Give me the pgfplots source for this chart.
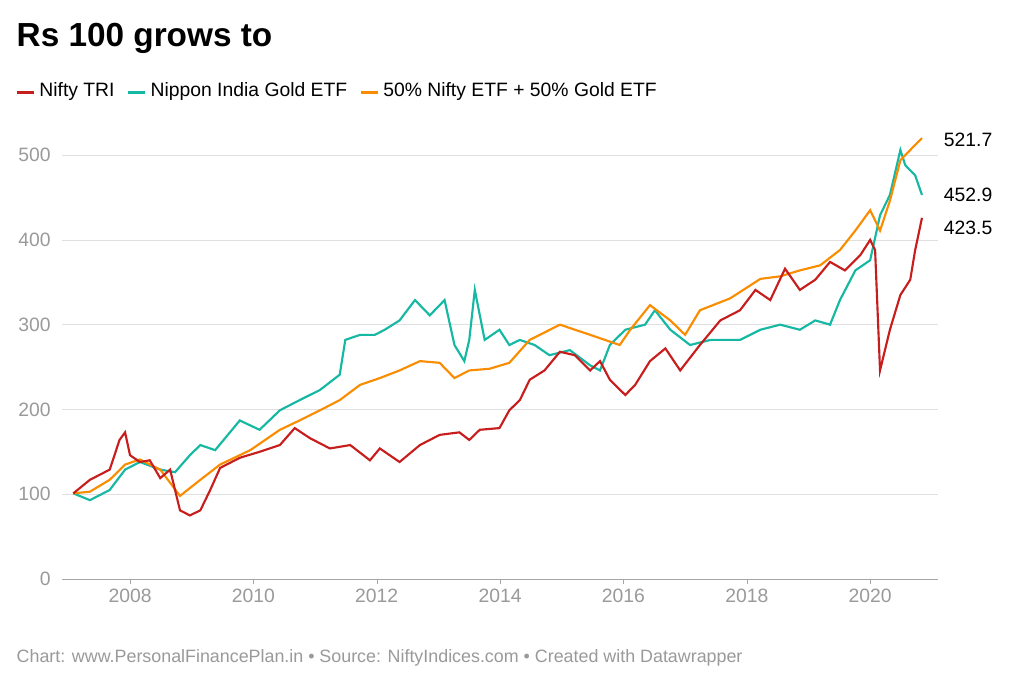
\documentclass[border=0pt]{standalone}
\usepackage{pgfplots}
\pgfplotsset{compat=1.18}
\usepackage{fontspec}
\setmainfont{Liberation Sans}
\definecolor{cred}{HTML}{C71E1D}
\definecolor{cteal}{HTML}{15B8A2}
\definecolor{corange}{HTML}{FA8C00}
\definecolor{cgrey}{HTML}{9A9A9A}
\begin{document}
\begin{tikzpicture}
\fill[white] (0,0) rectangle (768pt,520.5pt);
\node[anchor=west,font=\bfseries\fontsize{25}{30}\selectfont] at (9pt,492pt) {Rs 100 grows to};
\node[anchor=west,font=\fontsize{14.5}{17}\selectfont] at (9pt,451.5pt) {%
\textcolor{cred}{\rule[0.32ex]{13pt}{2.4pt}} Nifty TRI\hspace{10pt}%
\textcolor{cteal}{\rule[0.32ex]{13pt}{2.4pt}} Nippon India Gold ETF\hspace{10pt}%
\textcolor{corange}{\rule[0.32ex]{13pt}{2.4pt}} 50\% Nifty ETF + 50\% Gold ETF};
\node[anchor=west,text=cgrey,font=\fontsize{13.4}{16}\selectfont] at (9pt,27pt) {Chart: www.PersonalFinancePlan.in • Source: NiftyIndices.com • Created with Datawrapper};
\begin{axis}[at={(46.5pt,86.25pt)},anchor=south west,scale only axis,
width=657pt,height=337pt,
xmin=6.897,xmax=21.10,ymin=0,ymax=530,
axis x line*=bottom, axis y line*=left,
x axis line style={gray!70,-}, y axis line style={draw=none},
clip=false,
ytick={0,100,200,300,400,500},xtick={8,10,12,14,16,18,20},
xticklabels={2008,2010,2012,2014,2016,2018,2020},
ymajorgrids,grid style={gray!25},
ytick style={draw=none}, xtick style={gray!70},
tick align=outside, major tick length=4pt,
/pgf/number format/assume math mode=true,
yticklabel style={text=cgrey,font=\fontsize{14.5}{17}\selectfont,xshift=-1pt},
xticklabel style={text=cgrey,font=\fontsize{14.5}{17}\selectfont},
]
\addplot[cteal,line width=1.6pt] coordinates {
(7.08,101)(7.35,93)(7.67,105)(7.92,129)(8.16,138)(8.49,129)(8.73,126)(8.97,146)(9.14,158)(9.38,152)(9.78,187)(10.1,176)(10.43,199)(10.75,211)(11.08,223)(11.4,241)(11.49,282)(11.73,288)(11.97,288)(12.13,294)(12.37,305)(12.62,329)(12.86,311)(13.1,329)(13.26,276)(13.42,257)(13.5,282)(13.59,341)(13.75,282)(13.99,294)(14.15,276)(14.32,282)(14.56,276)(14.8,264)(15.13,270)(15.46,252)(15.62,246)(15.78,276)(16.03,294)(16.35,300)(16.51,317)(16.76,294)(17.08,276)(17.41,282)(17.89,282)(18.22,294)(18.54,300)(18.86,294)(19.11,305)(19.35,300)(19.51,329)(19.76,364)(20.0,376)(20.16,429)(20.32,453)(20.49,506)(20.57,488)(20.73,476)(20.84,453)};
\addplot[corange,line width=1.6pt] coordinates {
(7.08,101)(7.35,103)(7.67,117)(7.92,135)(8.16,141)(8.49,129)(8.81,98)(9.14,117)(9.46,135)(9.95,152)(10.43,176)(10.75,187)(11.08,199)(11.4,211)(11.73,229)(12.05,237)(12.37,246)(12.7,257)(13.02,255)(13.26,237)(13.5,246)(13.83,248)(14.15,255)(14.48,282)(14.97,300)(15.46,288)(15.94,276)(16.11,294)(16.43,323)(16.76,305)(17.0,288)(17.24,317)(17.73,331)(18.22,354)(18.54,357)(18.86,364)(19.19,370)(19.51,388)(19.76,411)(20.0,435)(20.16,411)(20.32,446)(20.49,494)(20.73,512)(20.84,520)};
\addplot[cred,line width=1.6pt] coordinates {
(7.08,101)(7.35,117)(7.67,129)(7.83,164)(7.92,173)(8.0,146)(8.16,138)(8.32,140)(8.49,119)(8.65,129)(8.73,105)(8.81,81)(8.97,75)(9.14,81)(9.3,105)(9.46,131)(9.78,143)(10.1,150)(10.43,158)(10.67,178)(10.92,166)(11.24,154)(11.57,158)(11.89,140)(12.05,154)(12.37,138)(12.7,158)(13.02,170)(13.34,173)(13.5,164)(13.67,176)(13.99,178)(14.15,199)(14.32,211)(14.48,235)(14.72,246)(14.97,268)(15.21,264)(15.46,246)(15.62,257)(15.78,235)(16.03,217)(16.19,229)(16.43,257)(16.68,272)(16.92,246)(17.24,276)(17.57,305)(17.89,317)(18.14,341)(18.38,329)(18.62,366)(18.86,341)(19.11,353)(19.35,374)(19.59,364)(19.84,382)(20.0,400)(20.08,388)(20.16,246)(20.32,294)(20.49,335)(20.65,353)(20.73,388)(20.84,426)};
\node[anchor=west,font=\fontsize{14.5}{17}\selectfont] at (axis cs:21.12,518) {521.7};
\node[anchor=west,font=\fontsize{14.5}{17}\selectfont] at (axis cs:21.12,453) {452.9};
\node[anchor=west,font=\fontsize{14.5}{17}\selectfont] at (axis cs:21.12,414) {423.5};
\end{axis}
\end{tikzpicture}
\end{document}
